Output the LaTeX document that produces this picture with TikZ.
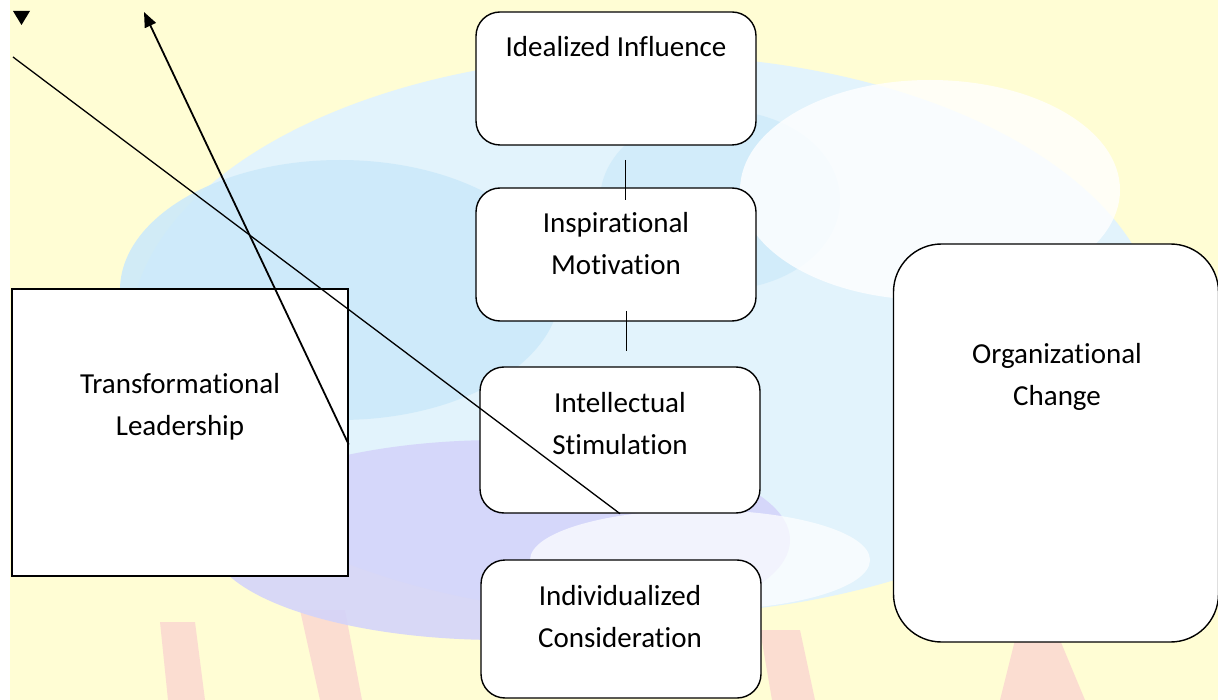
\documentclass[tikz,border=0pt]{standalone}
\usepackage{fontspec}
\setmainfont{Carlito}[Ligatures=CommonOff]
\usetikzlibrary{arrows.meta,calc}
\definecolor{bgyellow}{RGB}{255,253,212}
\definecolor{globebase}{RGB}{226,243,252}
\definecolor{globeblue}{RGB}{204,234,250}
\definecolor{globelav}{RGB}{212,212,250}
\definecolor{faintred}{RGB}{250,208,208}
\begin{document}
\begin{tikzpicture}[x=1pt,y=-1pt,
  box/.style={draw=black, line width=1.4pt, fill=white, rounded corners=24pt, inner sep=0pt, minimum width=280pt},
  bigbox/.style={draw=black, line width=1.4pt, fill=white, rounded corners=48pt, inner sep=0pt},
  sqbox/.style={draw=black, line width=1.4pt, fill=white, inner sep=0pt},
  txt/.style={font=\fontsize{29}{42}\selectfont, align=center, inner sep=0pt, text=black},
  conn/.style={draw=black, line width=1.3pt},
  arr/.style={draw=black, line width=1.8pt, -{Triangle[length=15pt,width=12pt]}}]
\useasboundingbox (0,0) rectangle (1218,700);
% background watermark
\begin{scope}
\clip (0,0) rectangle (1218,700);
\fill[white] (0,0) rectangle (1218,700);
\fill[bgyellow] (10,0) rectangle (1218,700);
\fill[faintred, opacity=0.7] (160,622) -- (195,622) -- (205,700) -- (168,700) -- cycle;
\fill[faintred, opacity=0.7] (300,610) -- (345,610) -- (362,700) -- (320,700) -- cycle;
\fill[faintred, opacity=0.7] (760,630) -- (800,630) -- (815,700) -- (772,700) -- cycle;
\fill[faintred, opacity=0.7] (1015,640) -- (1060,640) -- (1085,700) -- (1000,700) -- cycle;
\fill[globebase] (645,335) ellipse [x radius=515, y radius=280];
\fill[globeblue, opacity=0.9] (340,290) ellipse [x radius=220, y radius=130];
\fill[globeblue, opacity=0.7] (720,200) ellipse [x radius=120, y radius=90];
\fill[globelav, opacity=0.9] (500,540) ellipse [x radius=290, y radius=100];
\fill[white, opacity=0.8] (930,190) ellipse [x radius=190, y radius=110];
\fill[white, opacity=0.7] (700,560) ellipse [x radius=170, y radius=50];
\fill[globeblue, opacity=0.8] (1040,450) ellipse [x radius=110, y radius=150];
\end{scope}
% boxes
\node[sqbox, minimum width=336pt, minimum height=287pt] (tl) at (180,432.5) {};
\node[box, minimum height=133pt] (ii) at (616,78.5) {};
\node[box, minimum height=133pt] (im) at (616,254.5) {};
\node[box, minimum height=146pt] (is) at (620,440) {};
\node[box, minimum height=138pt] (ic) at (621,629) {};
\node[bigbox, minimum width=325pt, minimum height=398pt] (oc) at (1056,443) {};
% texts
\node[txt] (iit) at (616,47) {Idealized Influence};
\node[txt] (imt) at (616,244) {Inspirational\\Motivation};
\node[txt] (ist) at (620,424) {Intellectual\\Stimulation};
\node[txt] (ict) at (620,617) {Individualized\\Consideration};
\node[txt] (oct) at (1057,377) {Organizational\\Change};
\node[txt] (tlt) at (180,407) {Transformational\\Leadership};
% connectors
\coordinate (a1) at (625.5,160);
\coordinate (a2) at (625.5,200);
\coordinate (b1) at (626.5,311);
\coordinate (b2) at (626.5,351);
\coordinate (lstart) at (13,57);
\coordinate (arrtip) at (144,12);
\draw[conn] (a1) -- (a2);
\draw[conn] (b1) -- (b2);
\draw[conn] (lstart) -- (is.south);
\draw[arr] ($(tl.east)+(0,12)$) -- (arrtip);
\fill[black] (13,11) -- (30,11) -- (21.5,25) -- cycle;
\end{tikzpicture}
\end{document}
